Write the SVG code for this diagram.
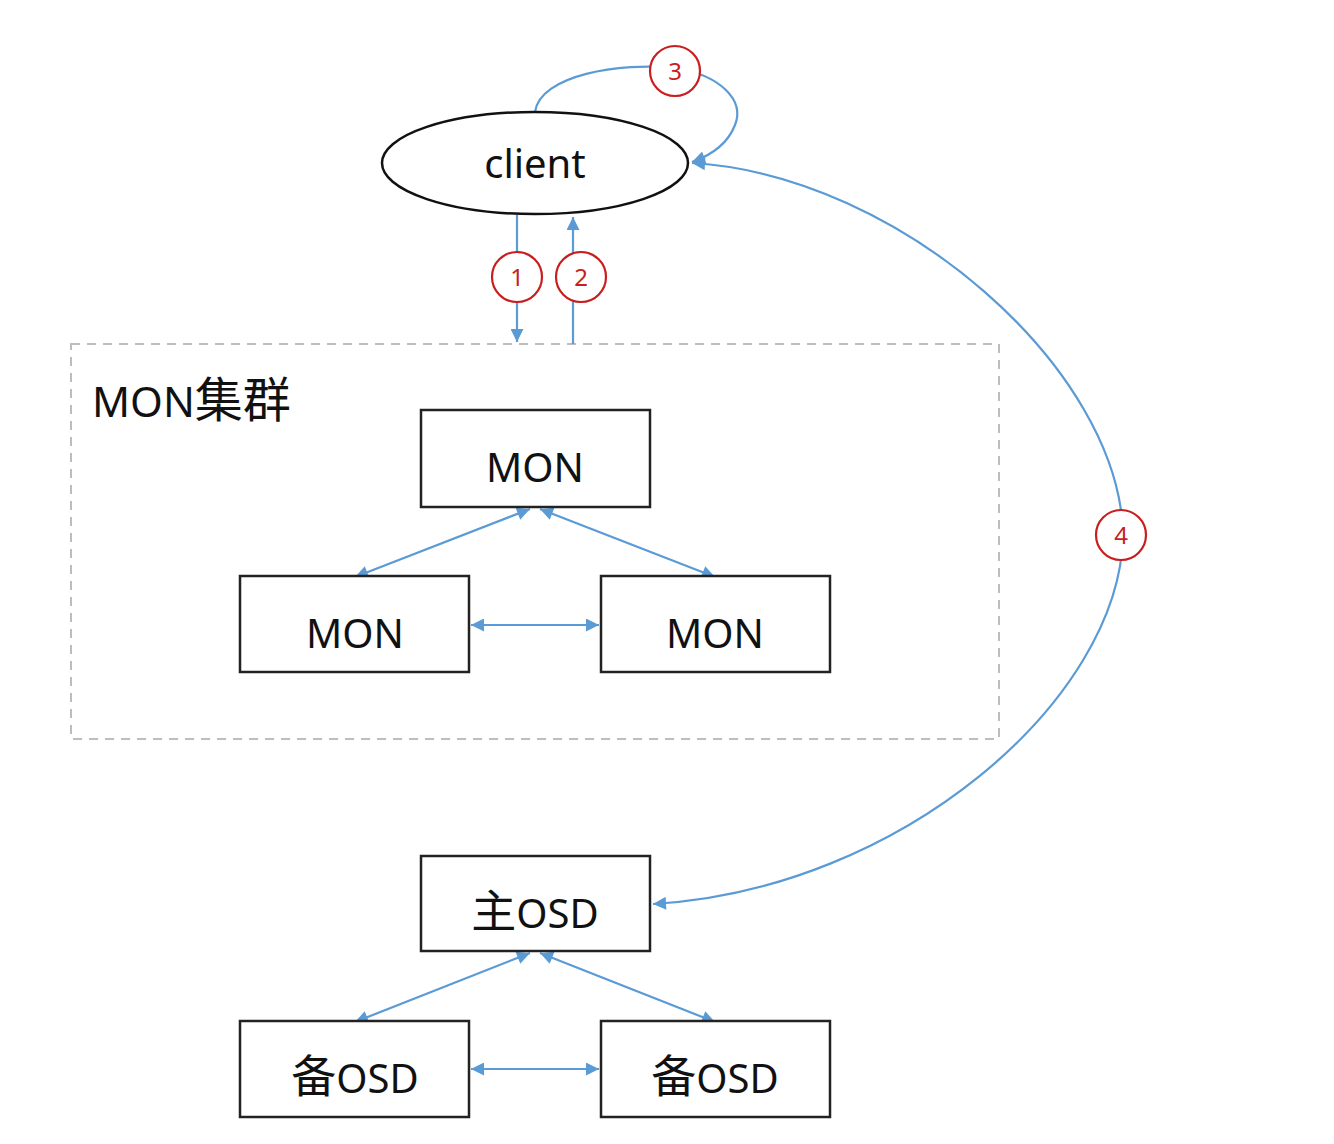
<svg xmlns="http://www.w3.org/2000/svg" width="1334" height="1144" viewBox="0 0 1334 1144">
<style>
.box{fill:#fff;stroke:#222;stroke-width:2.5}
.lbl{font-family:"Noto Sans","Noto Sans CJK SC",sans-serif;font-size:40px;fill:#111;text-anchor:middle}
.cjk{font-family:"Noto Sans CJK SC",sans-serif;font-size:45px}
.con{fill:none;stroke:#5B9BD5;stroke-width:2.2}
.num circle{fill:#fff;stroke:#C81E1E;stroke-width:2.2}
.num text{font-family:"Noto Sans",sans-serif;font-size:24px;fill:#C81E1E;text-anchor:middle}
</style>
<defs>
<marker id="ah" viewBox="0 0 10 10" refX="10" refY="5" markerWidth="16" markerHeight="13" markerUnits="userSpaceOnUse" orient="auto-start-reverse">
<path d="M0,0 L10,5 L0,10 Z" fill="#5B9BD5"/>
</marker>
</defs>
<rect width="1334" height="1144" fill="#fff"/>
<g id="mon-cluster">
<rect x="71" y="344" width="928" height="395" fill="none" stroke="#bdbdbd" stroke-width="2" stroke-dasharray="9,7"/>
<text x="92" y="417" style="font-family:'Noto Sans','Noto Sans CJK SC',sans-serif;font-size:42px;fill:#111">MON<tspan style="font-family:'Noto Sans CJK SC',sans-serif;font-size:48px">集群</tspan></text>
</g>
<g id="connectors">
<path class="con" d="M517 215 V342" marker-end="url(#ah)"/>
<path class="con" d="M573 344 V217" marker-end="url(#ah)"/>
<path class="con" d="M535 112 C540 75 620 62 675 68 C720 75 745 100 735 125 C728 143 712 155 692 162" marker-end="url(#ah)"/>
<path class="con" d="M653 904 C900 890 1120 700 1123 535 C1120 370 900 175 692 163" marker-start="url(#ah)" marker-end="url(#ah)"/>
<path class="con" d="M530 509 L355 577" marker-start="url(#ah)" marker-end="url(#ah)"/>
<path class="con" d="M540 509 L715 577" marker-start="url(#ah)" marker-end="url(#ah)"/>
<path class="con" d="M471 625 H599" marker-start="url(#ah)" marker-end="url(#ah)"/>
<path class="con" d="M530 953 L355 1022" marker-start="url(#ah)" marker-end="url(#ah)"/>
<path class="con" d="M540 953 L715 1022" marker-start="url(#ah)" marker-end="url(#ah)"/>
<path class="con" d="M471 1069 H599" marker-start="url(#ah)" marker-end="url(#ah)"/>
</g>
<g id="client">
<ellipse cx="535" cy="163" rx="153" ry="51" fill="#fff" stroke="#111" stroke-width="2.5"/>
<text class="lbl" x="535" y="178">client</text>
</g>
<g id="step1" class="num"><circle cx="517" cy="277" r="25"/><text x="517" y="286">1</text></g>
<g id="step2" class="num"><circle cx="581" cy="277" r="25"/><text x="581" y="286">2</text></g>
<g id="step3" class="num"><circle cx="675" cy="71" r="25"/><text x="675" y="80">3</text></g>
<g id="step4" class="num"><circle cx="1121" cy="535" r="25"/><text x="1121" y="544">4</text></g>
<g id="mon-top"><rect class="box" x="421" y="410" width="229" height="97"/><text class="lbl" x="535" y="482">MON</text></g>
<g id="mon-left"><rect class="box" x="240" y="576" width="229" height="96"/><text class="lbl" x="355" y="648">MON</text></g>
<g id="mon-right"><rect class="box" x="601" y="576" width="229" height="96"/><text class="lbl" x="715" y="648">MON</text></g>
<g id="osd-primary"><rect class="box" x="421" y="856" width="229" height="95"/><text class="lbl" x="535" y="928"><tspan class="cjk">主</tspan>OSD</text></g>
<g id="osd-backup-left"><rect class="box" x="240" y="1021" width="229" height="96"/><text class="lbl" x="355" y="1093"><tspan class="cjk">备</tspan>OSD</text></g>
<g id="osd-backup-right"><rect class="box" x="601" y="1021" width="229" height="96"/><text class="lbl" x="715" y="1093"><tspan class="cjk">备</tspan>OSD</text></g>
</svg>
